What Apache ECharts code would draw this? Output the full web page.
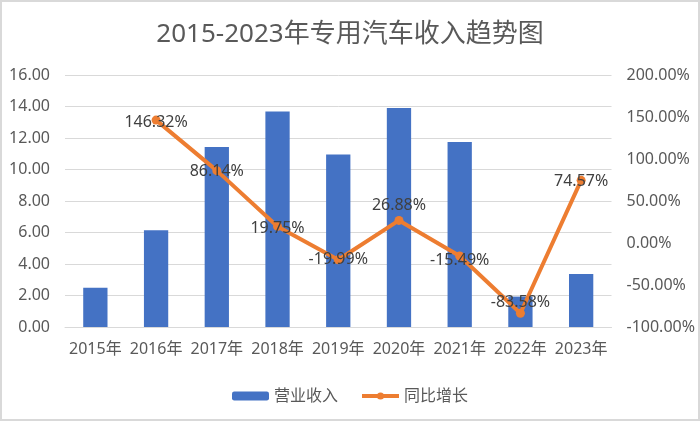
<!DOCTYPE html>
<html>
<head>
<meta charset="utf-8">
<script src="https://cdn.jsdelivr.net/npm/echarts@6/dist/echarts.min.js"></script>
<style>
  html, body { margin: 0; padding: 0; background: #fff; }
  #chart { width: 696px; height: 417px; border: 2px solid #d9d9d9; }
</style>
</head>
<body>
<div id="chart"></div>
<script>
// 数据
const years = ["2015年", "2016年", "2017年", "2018年", "2019年", "2020年", "2021年", "2022年", "2023年"]
const revenue = [2.49, 6.14, 11.43, 13.69, 10.95, 13.90, 11.75, 1.93, 3.37]
const growth = [null, 146.32, 86.14, 19.75, -19.99, 26.88, -15.49, -83.58, 74.57]
// 标签垂直偏移（部分标签在原图中被手动上移）
const labelShift = [0, 2, 1, 2, 0, -15, 4, -11, 1]

const font = "'Noto Sans', 'Noto Sans CJK SC', sans-serif"
const textColor = "#595959"

const chart = echarts.init(document.getElementById("chart"))

const growthData = growth.map((v, i) => ({
  value: v,
  label: { offset: [0, labelShift[i]] }
}))

chart.setOption({
  textStyle: { fontFamily: font },
  title: {
    text: "2015-2023年专用汽车收入趋势图",
    left: "center",
    top: 15,
    textStyle: { fontSize: 26, fontWeight: "normal", color: textColor, fontFamily: font }
  },
  legend: {
    data: ["营业收入", "同比增长"],
    left: "center",
    top: 381,
    itemWidth: 37,
    itemHeight: 9,
    itemGap: 22,
    lineStyle: { width: 4 },
    textStyle: { fontSize: 16, color: textColor }
  },
  grid: {
    left: 63,
    right: 85,
    top: 73,
    bottom: 92
  },
  xAxis: {
    type: "category",
    data: years,
    axisTick: { show: false },
    axisLine: { lineStyle: { color: "#d9d9d9", width: 1 } },
    axisLabel: { color: textColor, fontSize: 16, margin: 14, interval: 0 }
  },
  yAxis: [
    {
      type: "value",
      min: 0,
      max: 16,
      interval: 2,
      axisLabel: {
        color: textColor,
        fontSize: 16,
        margin: 15,
        formatter: v => v.toFixed(2)
      },
      splitLine: { lineStyle: { color: "#d9d9d9" } }
    },
    {
      type: "value",
      min: -100,
      max: 200,
      interval: 50,
      axisLabel: {
        color: textColor,
        fontSize: 16,
        margin: 15,
        formatter: v => v.toFixed(2) + "%"
      },
      splitLine: { show: false }
    }
  ],
  series: [
    {
      name: "营业收入",
      type: "bar",
      data: revenue,
      barWidth: "40%",
      itemStyle: { color: "#4472c4" }
    },
    {
      name: "同比增长",
      type: "line",
      yAxisIndex: 1,
      data: growthData,
      symbol: "circle",
      symbolSize: 9,
      lineStyle: { color: "#ed7d31", width: 4 },
      itemStyle: { color: "#ed7d31" },
      label: {
        show: true,
        position: "inside",
        color: "#404040",
        fontSize: 16,
        formatter: p => p.value.toFixed(2) + "%"
      }
    }
  ]
})
</script>
</body>
</html>
